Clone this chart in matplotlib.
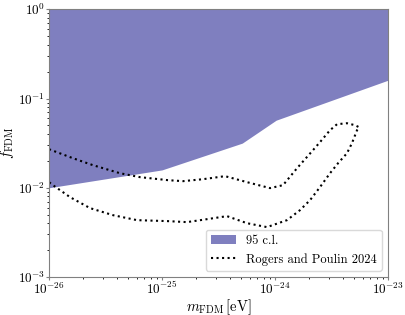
import numpy as np
import matplotlib
matplotlib.use("Agg")
import matplotlib.pyplot as plt

plt.rcParams['font.family'] = 'serif'
plt.rcParams['font.serif'] = ['cmr10', 'DejaVu Serif']
plt.rcParams['mathtext.fontset'] = 'cm'
plt.rcParams['axes.formatter.use_mathtext'] = True

# 95 c.l. bound (log10 m [eV], log10 f)
log_m_cl = [-26.0, -25.0, -24.29, -23.99, -23.0]
log_f_cl = [-2.0, -1.80, -1.50, -1.243, -0.795]

# Rogers and Poulin 2024 contour (log10 m [eV], log10 f)
log_m_rp = [-26.0, -25.788, -25.611, -25.372, -25.195, -24.947, -24.814, -24.637,
            -24.442, -24.248, -24.044, -23.929, -23.805, -23.664, -23.602, -23.513,
            -23.451, -23.363, -23.292, -23.257,
            -23.274, -23.319, -23.363, -23.442, -23.513, -23.602, -23.690, -23.779,
            -23.894, -24.071, -24.248, -24.425, -24.602, -24.779, -24.947, -25.221,
            -25.434, -25.637, -25.814, -25.965, -26.0]
log_f_rp = [-1.568, -1.669, -1.747, -1.837, -1.881, -1.915, -1.926, -1.904,
            -1.870, -1.937, -2.004, -1.971, -1.781, -1.579, -1.489, -1.355,
            -1.288, -1.277, -1.299, -1.321,
            -1.355, -1.501, -1.613, -1.725, -1.837, -1.993, -2.139, -2.251,
            -2.363, -2.441, -2.397, -2.318, -2.352, -2.385, -2.374, -2.363,
            -2.307, -2.228, -2.105, -1.971, -1.937]

m_cl = 10.0 ** np.array(log_m_cl)
f_cl = 10.0 ** np.array(log_f_cl)
m_rp = 10.0 ** np.array(log_m_rp)
f_rp = 10.0 ** np.array(log_f_rp)

fig = plt.figure(figsize=(4.05, 3.15), dpi=100)
ax = fig.add_axes([0.121, 0.1206, 0.837, 0.850])

ax.fill_between(m_cl, f_cl, 1.0, color='navy', alpha=0.5, linewidth=0, label='95 c.l.')
ax.plot(m_rp, f_rp, color='k', linestyle=':', linewidth=1.5, label='Rogers and Poulin 2024')

ax.set_xscale('log')
ax.set_yscale('log')
ax.set_xlim(1e-26, 1e-23)
ax.set_ylim(1e-3, 1)
ax.set_xlabel(r'$m_{\rm FDM}\,[{\rm eV}]$', fontsize=10.5, labelpad=0)
ax.set_ylabel(r'$f_{\rm FDM}$', fontsize=10.5, labelpad=1)
ax.tick_params(labelsize=9.5, colors='0.5', labelcolor='k', length=2, pad=1)
ax.tick_params(which='minor', length=1.2)
for s in ax.spines.values():
    s.set_color('0.5')

ax.legend(loc='lower right', fontsize=9, framealpha=1, edgecolor='0.85')

fig.savefig('out.png', dpi=100)
